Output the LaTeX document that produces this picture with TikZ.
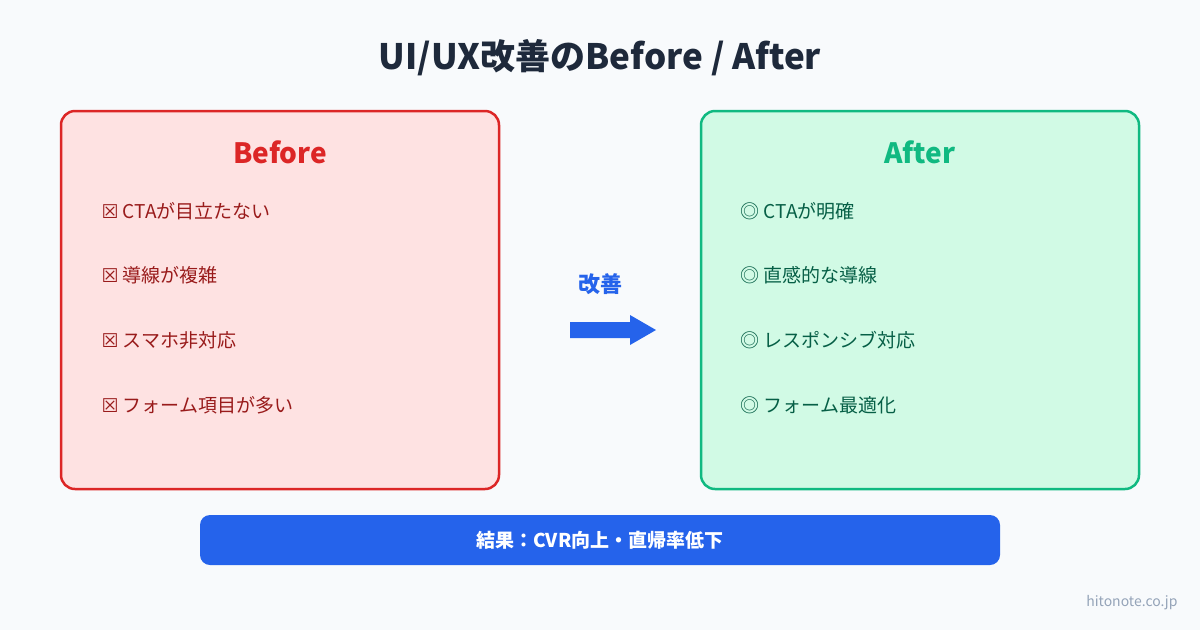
\documentclass[tikz,border=0pt]{standalone}
\usepackage{fontspec}
\setmainfont{Noto Sans CJK JP}
\newfontfamily\sym{DejaVu Sans}
\definecolor{bg}{HTML}{F8FAFC}
\definecolor{ttl}{HTML}{1E293B}
\definecolor{rd}{HTML}{DC2626}
\definecolor{rdf}{HTML}{FEE2E2}
\definecolor{rdt}{HTML}{991B1B}
\definecolor{gn}{HTML}{10B981}
\definecolor{gnf}{HTML}{D1FAE5}
\definecolor{gnt}{HTML}{065F46}
\definecolor{bl}{HTML}{2563EB}
\definecolor{gy}{HTML}{94A3B8}
\begin{document}
\begin{tikzpicture}[x=1pt,y=-1pt,
  box/.style={rounded corners=14pt,line width=2.5pt},
  item/.style={anchor=west,font=\fontsize{19}{22}\selectfont},
  head/.style={font=\fontsize{28}{32}\selectfont\bfseries}]
\fill[bg] (0,0) rectangle (1200,630);
\useasboundingbox (0,0) rectangle (1200,630);
\node[text=ttl,font=\fontsize{35}{40}\selectfont\bfseries] (title) at (600,58) {UI/UX改善のBefore / After};
\draw[box,draw=rd,fill=rdf] (61,111) rectangle (499,489);
\draw[box,draw=gn,fill=gnf] (701,111) rectangle (1139,489);
\node[head,text=rd] (bh) at (280,152) {Before};
\node[head,text=gn] (ah) at (920,152) {After};
\foreach \y/\t [count=\i] in {211/CTAが目立たない,275/導線が複雑,340/スマホ非対応,405/フォーム項目が多い}
  \node[item,text=rdt] (b\i) at (98,\y) {{\sym ☒} \t};
\foreach \y/\t [count=\i] in {211/CTAが明確,275/直感的な導線,340/レスポンシブ対応,405/フォーム最適化}
  \node[item,text=gnt] (a\i) at (737,\y) {◎ \t};
\node[text=bl,font=\fontsize{22}{26}\selectfont\bfseries] (imp) at (600,284) {改善};
\fill[bl] (570,322) -- (630,322) -- (630,315) -- (656,330) -- (630,345) -- (630,338) -- (570,338) -- cycle;
\fill[bl,rounded corners=10pt] (200,515) rectangle (1000,565);
\node[text=white,font=\fontsize{19}{22}\selectfont\bfseries] (res) at (600,540) {結果：CVR向上・直帰率低下};
\node[anchor=east,text=gy,font=\fontsize{14}{16}\selectfont] (wm) at (1181,603) {hitonote.co.jp};
\end{tikzpicture}
\end{document}
